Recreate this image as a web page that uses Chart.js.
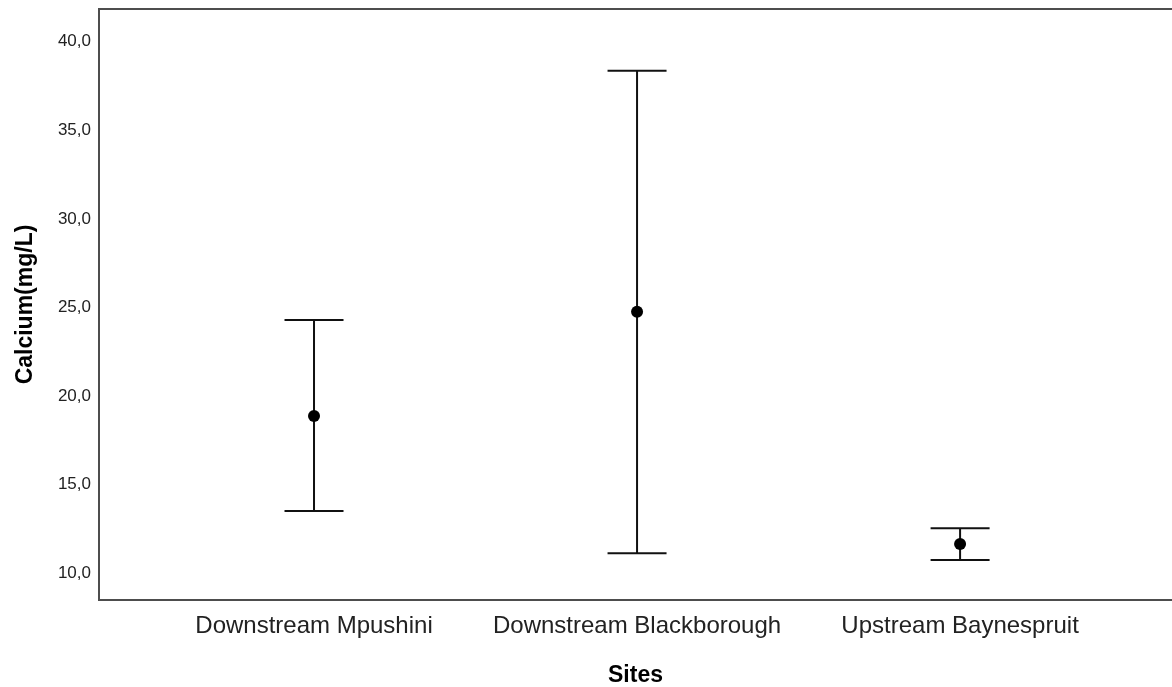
<!DOCTYPE html>
<html>
<head>
<meta charset="utf-8">
<script src="https://cdn.jsdelivr.net/npm/chart.js@4.4.1/dist/chart.umd.min.js"></script>
<style>
  html, body { margin: 0; padding: 0; background: #ffffff; }
  #wrap { width: 1172px; height: 687px; }
</style>
</head>
<body>
<div id="wrap"><canvas id="chart" width="1172" height="687"></canvas></div>
<script>
// Calcium concentration per sampling site: mean with error-bar limits (mg/L)
const sites = ['Downstream Mpushini', 'Downstream Blackborough', 'Upstream Baynespruit'];
const meanCalcium = [18.88, 24.76, 11.65];
const lowerLimit = [13.52, 11.13, 10.75];
const upperLimit = [24.29, 38.36, 12.54];
const yTickValues = [10, 15, 20, 25, 30, 35, 40];

const FONT = "'Liberation Sans', Arial, sans-serif";
const AXIS_COLOR = '#4d4d4d';
const MARK_COLOR = '#111111';

const meanPoints = sites.map((s, i) => ({ x: i, y: meanCalcium[i] }));
const capPoints = sites.flatMap((s, i) => [
  { x: i, y: lowerLimit[i] },
  { x: i, y: upperLimit[i] }
]);
const stemPoints = sites.flatMap((s, i) => [
  { x: i, y: lowerLimit[i] },
  { x: i, y: upperLimit[i] },
  { x: i, y: null }
]);

// fixed axis box sizes, no extra label overflow padding
function fixBox(size, horizontal) {
  return (scale) => {
    if (horizontal) scale.height = size; else scale.width = size;
    scale.paddingLeft = 0;
    scale.paddingRight = 0;
    scale.paddingTop = 0;
    scale.paddingBottom = 0;
  };
}

new Chart(document.getElementById('chart'), {
  type: 'scatter',
  data: {
    datasets: [
      {
        label: 'Mean',
        data: meanPoints,
        order: 0,
        pointRadius: 6,
        pointStyle: 'circle',
        backgroundColor: '#000000',
        borderColor: '#000000',
        borderWidth: 0
      },
      {
        label: 'Stem',
        data: stemPoints,
        order: 2,
        showLine: true,
        spanGaps: false,
        pointRadius: 0,
        borderColor: MARK_COLOR,
        borderWidth: 2
      },
      {
        label: 'Cap',
        data: capPoints,
        order: 1,
        pointStyle: 'line',
        pointRadius: 29.5,
        borderColor: MARK_COLOR,
        backgroundColor: MARK_COLOR,
        borderWidth: 2
      }
    ]
  },
  options: {
    responsive: false,
    animation: false,
    events: [],
    clip: false,
    layout: { padding: 0, autoPadding: false },
    plugins: {
      legend: { display: false },
      tooltip: { enabled: false }
    },
    scales: {
      x: {
        type: 'linear',
        position: 'bottom',
        min: -0.6656,
        max: 2.656,
        afterBuildTicks: (scale) => { scale.ticks = sites.map((s, i) => ({ value: i })); },
        afterFit: fixBox(87, true),
        grid: { display: false, drawTicks: false },
        border: { display: true, color: AXIS_COLOR, width: 2 },
        ticks: {
          autoSkip: false,
          maxRotation: 0,
          padding: 12,
          color: '#222222',
          font: { family: FONT, size: 24 },
          callback: (v) => sites[v] ?? ''
        },
        title: {
          display: true,
          text: 'Sites',
          color: '#000000',
          font: { family: FONT, size: 23, weight: 'bold', lineHeight: 1 },
          padding: { top: 0, bottom: 0 }
        }
      },
      xTop: {
        type: 'linear',
        position: 'top',
        display: true,
        min: 0,
        max: 1,
        afterFit: fixBox(9, true),
        grid: { display: false, drawTicks: false },
        border: { display: true, color: AXIS_COLOR, width: 2 },
        ticks: { display: false }
      },
      y: {
        type: 'linear',
        position: 'left',
        min: 8.49,
        max: 41.85,
        afterBuildTicks: (scale) => { scale.ticks = yTickValues.map(v => ({ value: v })); },
        afterFit: fixBox(99, false),
        grid: { display: false, drawTicks: false },
        border: { display: true, color: AXIS_COLOR, width: 2 },
        ticks: {
          padding: 8,
          color: '#222222',
          font: { family: FONT, size: 17 },
          callback: (v) => v.toFixed(1).replace('.', ',')
        },
        title: {
          display: true,
          text: 'Calcium(mg/L)',
          color: '#000000',
          font: { family: FONT, size: 23, weight: 'bold', lineHeight: 1 },
          padding: { top: 14, bottom: 0 }
        }
      }
    }
  }
});
</script>
</body>
</html>
